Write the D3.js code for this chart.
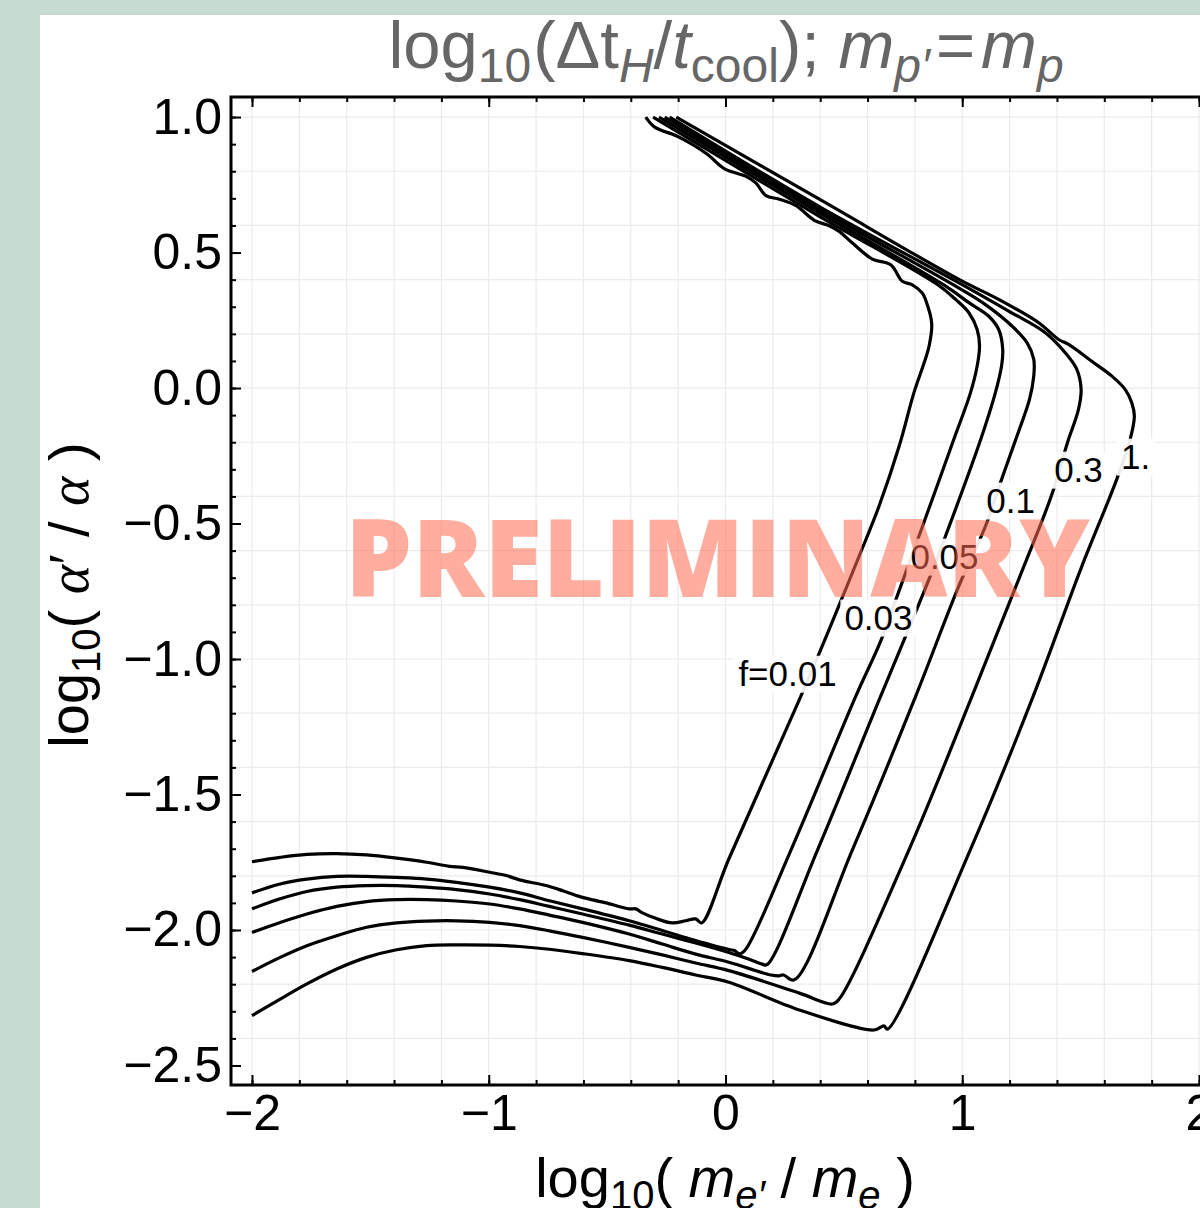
<!DOCTYPE html>
<html>
<head>
<meta charset="utf-8">
<script src="https://cdn.jsdelivr.net/npm/d3@7"></script>
<style>
  html, body { margin: 0; padding: 0; background: #c6dcd0; }
  svg { display: block; }
</style>
</head>
<body>
<svg id="chart" width="1200" height="1208"></svg>
<script>
// Contour lines of log10(Δt_H / t_cool) for several values of f,
// in the plane log10(m_e'/m_e) (x) vs log10(α'/α) (y).
const fLabels = ["f=0.01", "0.03", "0.05", "0.1", "0.3", "1."];
const labelAnchors = [[0.262, -1.052], [0.646, -0.845], [0.925, -0.62], [1.204, -0.413], [1.491, -0.299], [1.732, -0.251]];

const curveF001 = [
  [-2.0,-1.748],[-1.881,-1.732],[-1.768,-1.721],[-1.642,-1.718],[-1.516,-1.723],[-1.389,-1.735],[-1.263,-1.750],
  [-1.165,-1.765],[-1.109,-1.769],[-0.996,-1.787],[-0.926,-1.799],[-0.870,-1.815],[-0.758,-1.836],[-0.688,-1.855],
  [-0.618,-1.876],[-0.561,-1.889],[-0.505,-1.900],[-0.407,-1.922],[-0.379,-1.922],[-0.351,-1.937],[-0.295,-1.957],
  [-0.225,-1.974],[-0.168,-1.966],[-0.126,-1.959],[-0.101,-1.974],
  [0.014,-1.738],[0.312,-1.15],[0.40,-0.97],[0.49,-0.78],[0.56,-0.63],[0.648,-0.437],[0.735,-0.21],[0.796,-0.017],
  [0.839,0.093],[0.86,0.155],[0.871,0.238],[0.845,0.326],[0.831,0.351],[0.789,0.381],[0.747,0.394],[0.698,0.455],
  [0.620,0.476],[0.536,0.535],[0.480,0.578],[0.438,0.599],[0.375,0.619],[0.298,0.673],[0.227,0.697],[0.171,0.710],
  [0.129,0.756],[0.087,0.781],[-0.004,0.809],[-0.074,0.861],[-0.138,0.898],[-0.208,0.931],[-0.299,0.963],[-0.337,1.0]
];
const curveF003 = [
  [-2.0,-1.863],[-1.881,-1.830],[-1.768,-1.812],[-1.642,-1.802],[-1.516,-1.802],[-1.389,-1.806],[-1.263,-1.812],
  [-1.137,-1.824],[-0.996,-1.842],[-0.870,-1.863],[-0.744,-1.892],[-0.604,-1.922],[-0.407,-1.966],[-0.267,-2.002],
  [-0.126,-2.039],[0.014,-2.072],[0.038,-2.076],[0.059,-2.088],[0.084,-2.073],
  [0.277,-1.704],[0.55,-1.138],[0.655,-0.935],[0.72,-0.78],[0.817,-0.547],[0.96,-0.2],[1.035,-0.017],
  [1.063,0.081],[1.073,0.155],[1.063,0.216],[1.028,0.278],[0.972,0.327],[0.895,0.382],[0.4,0.632],[-0.306,1.0]
];
const curveF005 = [
  [-2.0,-1.922],[-1.881,-1.885],[-1.768,-1.858],[-1.642,-1.842],[-1.516,-1.836],[-1.389,-1.836],[-1.263,-1.842],
  [-1.137,-1.851],[-0.996,-1.867],[-0.870,-1.888],[-0.744,-1.913],[-0.604,-1.941],[-0.407,-1.982],[-0.267,-2.015],
  [-0.126,-2.048],[0.014,-2.083],[0.10,-2.108],[0.155,-2.126],[0.175,-2.128],
  [0.389,-1.704],[0.655,-1.138],[0.859,-0.707],[0.929,-0.547],[1.072,-0.205],[1.14,-0.017],
  [1.166,0.081],[1.171,0.142],[1.154,0.216],[1.112,0.265],[1.028,0.315],[0.93,0.376],[0.4,0.645],[-0.281,1.0]
];
const curveF01 = [
  [-2.0,-2.009],[-1.881,-1.972],[-1.768,-1.941],[-1.642,-1.913],[-1.516,-1.895],[-1.389,-1.888],[-1.263,-1.888],
  [-1.137,-1.893],[-0.996,-1.904],[-0.870,-1.922],[-0.744,-1.945],[-0.604,-1.972],[-0.407,-2.015],[-0.267,-2.052],
  [-0.126,-2.089],[0.014,-2.119],[0.192,-2.166],[0.227,-2.169],[0.245,-2.166],[0.29,-2.184],
  [0.536,-1.704],[0.803,-1.138],[0.985,-0.732],[1.098,-0.51],[1.161,-0.35],[1.23,-0.18],[1.284,-0.042],
  [1.302,0.044],[1.302,0.106],[1.274,0.167],[1.21,0.229],[1.098,0.308],[0.972,0.376],[0.4,0.657],[-0.257,1.0]
];
const curveF03 = [
  [-2.0,-2.153],[-1.881,-2.101],[-1.768,-2.058],[-1.642,-2.021],[-1.516,-1.990],[-1.389,-1.974],[-1.263,-1.967],
  [-1.137,-1.966],[-0.996,-1.972],[-0.870,-1.984],[-0.744,-2.003],[-0.604,-2.027],[-0.407,-2.064],[-0.267,-2.092],
  [-0.126,-2.122],[0.014,-2.150],[0.312,-2.233],[0.452,-2.273],[0.48,-2.255],
  [0.775,-1.704],[1.041,-1.138],[1.238,-0.707],[1.378,-0.394],[1.445,-0.2],[1.491,-0.079],[1.502,-0.005],
  [1.484,0.069],[1.435,0.130],[1.351,0.204],[1.196,0.284],[0.986,0.388],[0.4,0.668],[-0.236,1.0]
];
const curveF1 = [
  [-2.0,-2.316],[-1.881,-2.255],[-1.768,-2.199],[-1.642,-2.144],[-1.516,-2.101],[-1.389,-2.073],[-1.263,-2.058],
  [-1.137,-2.055],[-0.996,-2.056],[-0.870,-2.061],[-0.744,-2.071],[-0.604,-2.087],[-0.407,-2.113],[-0.267,-2.138],
  [-0.126,-2.166],[0.014,-2.193],[0.312,-2.295],[0.627,-2.369],[0.669,-2.354],[0.684,-2.366],
  [1.034,-1.704],[1.294,-1.15],[1.505,-0.658],[1.652,-0.338],[1.709,-0.19],[1.727,-0.104],[1.716,-0.054],
  [1.688,-0.005],[1.632,0.044],[1.547,0.099],[1.449,0.161],[1.407,0.179],[1.323,0.241],[1.154,0.327],
  [0.986,0.401],[0.4,0.695],[-0.208,1.0]
];
const curves = [curveF001, curveF003, curveF005, curveF01, curveF03, curveF1];

const xTickValues = [-2, -1, 0, 1, 2];
const yTickValues = [1.0, 0.5, 0.0, -0.5, -1.0, -1.5, -2.0, -2.5];
const xGridValues = d3.range(-20, 21, 2).map(v => v / 10);
const yGridValues = d3.range(-24, 11, 2).map(v => v / 10);
const xMinorValues = d3.range(-20, 21, 2).map(v => v / 10);
const yMinorValues = d3.range(-25, 11, 1).map(v => v / 10);

const sansFont = "'Liberation Sans', Arial, Helvetica, sans-serif";
const svg = d3.select("#chart");

// page panel
svg.append("rect").attr("x", 0).attr("y", 0).attr("width", 1200).attr("height", 1208).attr("fill", "#c6dcd0");
svg.append("rect").attr("x", 40).attr("y", 15).attr("width", 1160).attr("height", 1193).attr("fill", "#ffffff");

const plot = { left: 231, right: 1220, top: 97, bottom: 1085 };
const x = d3.scaleLinear().domain([-2.0887, 2.0887]).range([plot.left, plot.right]);
const y = d3.scaleLinear().domain([-2.572, 1.074]).range([plot.bottom, plot.top]);

svg.append("clipPath").attr("id", "plotClip")
  .append("rect").attr("x", plot.left).attr("y", plot.top)
  .attr("width", plot.right - plot.left).attr("height", plot.bottom - plot.top);

// grid
const grid = svg.append("g").attr("clip-path", "url(#plotClip)");
grid.selectAll("line.gx").data(xGridValues).join("line").attr("class", "gx")
  .attr("x1", d => x(d)).attr("x2", d => x(d)).attr("y1", plot.top).attr("y2", plot.bottom)
  .attr("stroke", "#ebebeb").attr("stroke-width", 1.2);
grid.selectAll("line.gy").data(yGridValues).join("line").attr("class", "gy")
  .attr("x1", plot.left).attr("x2", plot.right).attr("y1", d => y(d)).attr("y2", d => y(d))
  .attr("stroke", "#ebebeb").attr("stroke-width", 1.2);

// contour curves
const line = d3.line().x(d => x(d[0])).y(d => y(d[1])).curve(d3.curveCatmullRom.alpha(0.5));
const lines = svg.append("g").attr("clip-path", "url(#plotClip)");
lines.selectAll("path").data(curves).join("path")
  .attr("d", line).attr("fill", "none").attr("stroke", "#000").attr("stroke-width", 3.2)
  .attr("stroke-linejoin", "round");

// contour labels on white boxes
const labG = svg.append("g");
fLabels.forEach((t, i) => {
  const g = labG.append("g");
  const txt = g.append("text")
    .attr("x", x(labelAnchors[i][0])).attr("y", y(labelAnchors[i][1]))
    .attr("text-anchor", "middle").attr("dy", "0.36em")
    .attr("font-family", sansFont).attr("font-size", 35).attr("fill", "#000")
    .text(t);
  const bb = txt.node().getBBox();
  g.insert("rect", "text")
    .attr("x", bb.x - 4).attr("y", bb.y + 2).attr("width", bb.width + 8).attr("height", bb.height - 2)
    .attr("fill", "#fff").attr("fill-opacity", 0.92);
});

// axes (ticks point into the frame)
function styleAxis(g) {
  g.select(".domain").remove();
  g.selectAll(".tick line").attr("stroke", "#000").attr("stroke-width", 2);
  g.selectAll(".tick text").attr("font-family", sansFont).attr("font-size", 50).attr("fill", "#000");
}
svg.append("g").attr("transform", `translate(0,${plot.bottom})`)
  .call(d3.axisBottom(x).tickValues(xMinorValues).tickSize(-5).tickFormat("")).call(styleAxis);
svg.append("g").attr("transform", `translate(0,${plot.bottom})`)
  .call(d3.axisBottom(x).tickValues(xTickValues).tickSize(-10).tickPadding(9).tickFormat(d3.format("d"))).call(styleAxis);
svg.append("g").attr("transform", `translate(0,${plot.top})`)
  .call(d3.axisTop(x).tickValues(xMinorValues).tickSize(-5).tickFormat("")).call(styleAxis);
svg.append("g").attr("transform", `translate(0,${plot.top})`)
  .call(d3.axisTop(x).tickValues(xTickValues).tickSize(-10).tickFormat("")).call(styleAxis);
svg.append("g").attr("transform", `translate(${plot.left},0)`)
  .call(d3.axisLeft(y).tickValues(yMinorValues).tickSize(-5).tickFormat("")).call(styleAxis);
svg.append("g").attr("transform", `translate(${plot.left},0)`)
  .call(d3.axisLeft(y).tickValues(yTickValues).tickSize(-10).tickPadding(9).tickFormat(d3.format(".1f"))).call(styleAxis);

// frame
svg.append("rect").attr("x", plot.left).attr("y", plot.top)
  .attr("width", plot.right - plot.left).attr("height", plot.bottom - plot.top)
  .attr("fill", "none").attr("stroke", "#000").attr("stroke-width", 3);

// watermark
svg.append("text").attr("x", 345).attr("y", 597)
  .attr("font-family", "'Open Sans', Lato, sans-serif").attr("font-weight", 800).attr("font-size", 108)
  .attr("textLength", 745).attr("lengthAdjust", "spacingAndGlyphs")
  .attr("fill", "#ff6a50").attr("fill-opacity", 0.55)
  .text("PRELIMINARY");

// title
function addRuns(textSel, runs) {
  runs.forEach(r => {
    const ts = textSel.append("tspan").text(r.t);
    if (r.size) ts.attr("font-size", r.size);
    if (r.dy) ts.attr("dy", r.dy);
    if (r.dx) ts.attr("dx", r.dx);
    if (r.it) ts.attr("font-style", "italic");
    if (r.ff) ts.attr("font-family", r.ff);
  });
}
const title = svg.append("text").attr("x", 726).attr("y", 68).attr("text-anchor", "middle")
  .attr("font-family", sansFont).attr("font-size", 67).attr("fill", "#666");
addRuns(title, [
  { t: "log" }, { t: "10", size: 48, dy: 14 }, { t: "(Δt", dy: -14, dx: 2 },
  { t: "H", size: 48, dy: 14, it: true }, { t: "/", dy: -14 }, { t: "t", it: true },
  { t: "cool", size: 48, dy: 14 }, { t: "); ", dy: -14 }, { t: "m", it: true },
  { t: "p′", size: 48, dy: 14, it: true }, { t: "=", dy: -14, dx: 6 }, { t: "m", it: true, dx: 6 },
  { t: "p", size: 48, dy: 14, it: true }
]);

// x-axis label
const xl = svg.append("text").attr("x", 725).attr("y", 1197).attr("text-anchor", "middle")
  .attr("font-family", sansFont).attr("font-size", 56).attr("fill", "#000");
addRuns(xl, [
  { t: "log" }, { t: "10", size: 40, dy: 12 }, { t: "( ", dy: -12 }, { t: "m", it: true },
  { t: "e′", size: 40, dy: 12, it: true }, { t: " / ", dy: -12 }, { t: "m", it: true },
  { t: "e", size: 40, dy: 12, it: true }, { t: " )", dy: -12 }
]);

// y-axis label
const yl = svg.append("text").attr("transform", "translate(88,595) rotate(-90)").attr("text-anchor", "middle")
  .attr("font-family", sansFont).attr("font-size", 56).attr("fill", "#000");
const serif = "'Liberation Serif', 'Times New Roman', serif";
addRuns(yl, [
  { t: "log" }, { t: "10", size: 40, dy: 12 }, { t: "( ", dy: -12 }, { t: "α", it: true, ff: serif },
  { t: "′", ff: serif }, { t: " / " }, { t: "α", it: true, ff: serif }, { t: " )" }
]);
</script>
</body>
</html>
